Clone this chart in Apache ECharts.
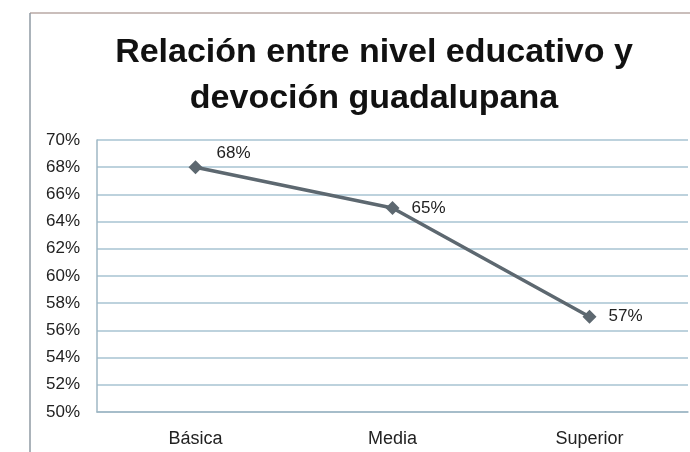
<!DOCTYPE html>
<html><head><meta charset="utf-8">
<script src="https://cdn.jsdelivr.net/npm/echarts@6/dist/echarts.min.js"></script>
<style>html,body{margin:0;padding:0;background:#fff}#c{width:690px;height:452px}</style>
</head><body><div id="c"></div>
<script>
const titleText = "Relación entre nivel educativo y\ndevoción guadalupana";
const categories = ["Básica", "Media", "Superior"];
const values = [68, 65, 57];
const yMin = 50, yMax = 70, yStep = 2;

const chart = echarts.init(document.getElementById('c'));
chart.setOption({
  animation: false,
  backgroundColor: '#ffffff',
  graphic: [
    { type: 'line', shape: { x1: 30, y1: 13, x2: 700, y2: 13 }, style: { stroke: '#b8a9a4', lineWidth: 1.5 } },
    { type: 'line', shape: { x1: 30, y1: 13, x2: 30, y2: 460 }, style: { stroke: '#8f9aa3', lineWidth: 1.5 } }
  ],
  title: {
    text: titleText,
    left: 369, top: 25, textAlign: 'center',
    textStyle: { fontFamily: 'Liberation Sans, Arial', fontSize: 34, fontWeight: 'bold', color: '#111', lineHeight: 46 }
  },
  grid: { left: 97, right: 2, top: 140, bottom: 40 },
  xAxis: {
    type: 'category', data: categories, boundaryGap: true,
    axisLine: { show: true, lineStyle: { color: '#9fb7c4', width: 1.5 } },
    axisTick: { show: false },
    axisLabel: { fontFamily: 'Liberation Sans, Arial', fontSize: 18, color: '#222', margin: 18 }
  },
  yAxis: {
    type: 'value', min: yMin, max: yMax, interval: yStep,
    axisLine: { show: true, lineStyle: { color: '#9fb7c4', width: 1.5 } },
    axisTick: { show: false },
    splitLine: { lineStyle: { color: '#a7c3d2', width: 1.5 } },
    axisLabel: { formatter: v => v + '%', fontFamily: 'Liberation Sans, Arial', fontSize: 17, color: '#222', margin: 17 }
  },
  series: [{
    type: 'line', data: values,
    symbol: 'diamond', symbolSize: 14,
    lineStyle: { color: '#5d6870', width: 3.5 },
    itemStyle: { color: '#5d6870' },
    label: {
      show: true, formatter: p => p.value + '%',
      fontFamily: 'Liberation Sans, Arial', fontSize: 17, color: '#222',
      position: 'right', distance: 12
    },
    labelLayout: (p) => p.dataIndex === 0 ? { dy: -14, dx: 2 } : {}
  }]
});
</script></body></html>
